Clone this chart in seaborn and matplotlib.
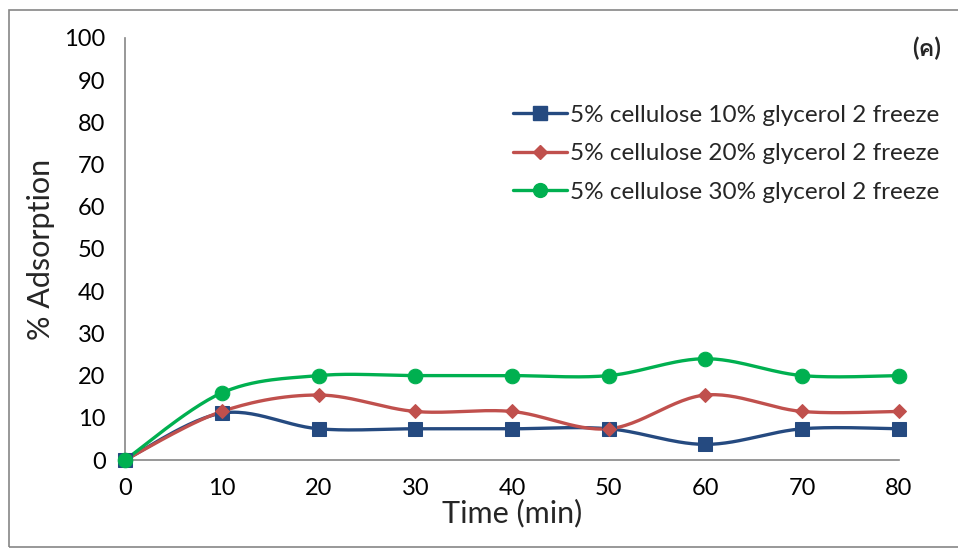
import numpy as np
import pandas as pd
import matplotlib
matplotlib.use("Agg")
import matplotlib.pyplot as plt
import seaborn as sns
from matplotlib.lines import Line2D
from matplotlib.patches import Rectangle
from matplotlib import font_manager
from matplotlib.ft2font import FT2Font

time_min = [0, 10, 20, 30, 40, 50, 60, 70, 80]
series_names = ["5% cellulose 10% glycerol 2 freeze",
                "5% cellulose 20% glycerol 2 freeze",
                "5% cellulose 30% glycerol 2 freeze"]
s10 = [0, 11.1, 7.4, 7.4, 7.4, 7.4, 3.7, 7.4, 7.4]
s20 = [0, 11.5, 15.4, 11.5, 11.5, 7.4, 15.4, 11.5, 11.5]
s30 = [0, 15.9, 20.0, 20.0, 20.0, 20.0, 24.0, 20.0, 20.0]
y_ticks = [0, 10, 20, 30, 40, 50, 60, 70, 80, 90, 100]
x_ticks = [0, 10, 20, 30, 40, 50, 60, 70, 80]
panel_label = "(ค)"

colors = ["#254A80", "#C0504D", "#00B050"]
markers = ["s", "D", "o"]
msizes = [10, 7.5, 10.5]

sns.set_theme(style="white")
plt.rcParams['font.family'] = ['Lato', 'DejaVu Sans', 'Noto Sans']

# find an installed family that has the Thai glyph
thai_fams = []
for fe in font_manager.fontManager.ttflist:
    try:
        f = FT2Font(fe.fname)
        if 0x0E04 in f.get_charmap():
            if fe.name not in thai_fams:
                thai_fams.append(fe.name)
    except Exception:
        pass

df = pd.DataFrame({
    "Time": time_min * 3,
    "Adsorption": s10 + s20 + s30,
    "Series": [series_names[0]] * 9 + [series_names[1]] * 9 + [series_names[2]] * 9,
})

fig = plt.figure(figsize=(9.58, 5.49), dpi=100)
ax = fig.add_axes([0.1305, 0.1621, 0.8079, 0.7687])

def smooth(x, y, n=30):
    x = np.asarray(x, float); y = np.asarray(y, float)
    P = np.column_stack([x, y])
    Pp = np.vstack([P[0], P, P[-1]])
    out = []
    for i in range(len(P) - 1):
        p0, p1, p2, p3 = Pp[i], Pp[i + 1], Pp[i + 2], Pp[i + 3]
        c1 = p1 + (p2 - p0) / 6.0
        c2 = p2 - (p3 - p1) / 6.0
        t = np.linspace(0, 1, n)[:, None]
        seg = (1 - t) ** 3 * p1 + 3 * (1 - t) ** 2 * t * c1 + 3 * (1 - t) * t ** 2 * c2 + t ** 3 * p2
        out.append(seg if i == 0 else seg[1:])
    seg = np.vstack(out)
    return seg[:, 0], seg[:, 1]

for name, c in zip(series_names, colors):
    sub = df[df["Series"] == name]
    sx, sy = smooth(sub["Time"], sub["Adsorption"])
    ax.plot(sx, sy, color=c, lw=2.4, zorder=2, solid_capstyle="round")

for name, c, m, ms in zip(series_names, colors, markers, msizes):
    sub = df[df["Series"] == name]
    sns.lineplot(data=sub, x="Time", y="Adsorption", ax=ax, color=c, marker=m,
                 markersize=ms, markeredgecolor=c, linestyle="none", legend=False, zorder=3)

ax.set_xlim(0, 80)
ax.set_ylim(0, 100)
ax.set_xticks(x_ticks)
ax.set_yticks(y_ticks)
ax.set_xticklabels([str(v) for v in x_ticks])
ax.set_yticklabels([str(v) for v in y_ticks])
ax.set_xlabel("Time (min)", fontsize=22, labelpad=0)
ax.set_ylabel("% Adsorption", fontsize=22, labelpad=7)
ax.tick_params(axis="both", labelsize=17, colors="#868686", labelcolor="black",
               direction="out", length=6, width=1.2)
ax.tick_params(axis="y", pad=8)
ax.tick_params(axis="x", pad=7)
for s in ["top", "right"]:
    ax.spines[s].set_visible(False)
for s in ["left", "bottom"]:
    ax.spines[s].set_color("#868686")
    ax.spines[s].set_linewidth(1.2)
for l in ax.lines:
    l.set_clip_on(False)

handles = [Line2D([0], [0], color=c, lw=2.4, marker=m, markersize=ms * 0.95, markeredgecolor=c)
           for c, m, ms in zip(colors, markers, msizes)]
ax.legend(handles, series_names, loc="upper right", bbox_to_anchor=(1.065, 0.865),
          frameon=False, fontsize=17.5, handlelength=2.2, handletextpad=0.15,
          labelspacing=0.72, borderaxespad=0)

fig.text(0.982, 0.912, panel_label, ha="right", va="center", fontsize=17, fontweight="bold",
         family=['Lato'] + thai_fams + ['DejaVu Sans'])

fig.patches.append(Rectangle((0.009, 0.003), 1.2, 0.978, transform=fig.transFigure,
                             fill=False, edgecolor="#868686", lw=1.2))

fig.savefig("out.png", dpi=100)
